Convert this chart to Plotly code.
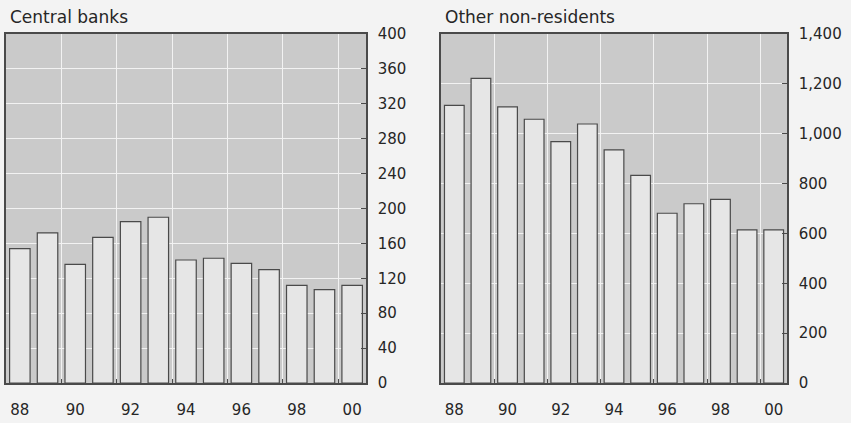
import plotly.graph_objects as go

years = [1988, 1989, 1990, 1991, 1992, 1993, 1994, 1995, 1996, 1997, 1998, 1999, 2000]
central_banks = [154, 172, 136, 167, 185, 190, 141, 143, 137, 130, 112, 107, 112]
other_nonres = [1114, 1222, 1108, 1058, 968, 1039, 935, 833, 681, 719, 737, 614, 614]
tick_years = [1988, 1990, 1992, 1994, 1996, 1998, 2000]
tick_labels = ["88", "90", "92", "94", "96", "98", "00"]
grid_years = [1989.5, 1991.5, 1993.5, 1995.5, 1997.5, 1999.5]
left_title = "Central banks"
right_title = "Other non-residents"

W, H = 851, 423
font = "DejaVu Sans, Liberation Sans, Arial, sans-serif"
dark = "#4a4a4a"
bar_fill = "#e6e6e6"
plot_bg = "#cacaca"
paper_bg = "#f3f3f3"
text_col = "#262626"

fig = go.Figure()
fig.add_trace(go.Bar(x=years, y=central_banks, xaxis="x", yaxis="y",
                     marker=dict(color=bar_fill, line=dict(color=dark, width=1.2)),
                     width=0.74, showlegend=False))
fig.add_trace(go.Bar(x=years, y=other_nonres, xaxis="x2", yaxis="y2",
                     marker=dict(color=bar_fill, line=dict(color=dark, width=1.2)),
                     width=0.74, showlegend=False))

y0 = (H - 383) / H
y1 = (H - 34) / H

def xaxis(domain, anchor):
    return dict(domain=domain, anchor=anchor, range=[1987.5, 2000.5], automargin=False,
                tickvals=tick_years, ticktext=tick_labels, showgrid=False,
                ticks="", showline=True, linecolor=dark, linewidth=1.5, mirror=True,
                zeroline=False, ticklabelstandoff=12,
                tickfont=dict(family=font, size=15, color=text_col),
                minor=dict(tickvals=grid_years, showgrid=True, gridcolor="#f2f2f2",
                           gridwidth=1, ticks="inside", ticklen=4, tickcolor=dark))

def yaxis(domain, anchor, rng, dtick):
    return dict(domain=domain, anchor=anchor, side="right", range=rng, dtick=dtick,
                automargin=False,
                showgrid=True, gridcolor="#f2f2f2", gridwidth=1,
                ticks="inside", ticklen=5, tickcolor=dark,
                showline=True, linecolor=dark, linewidth=1.5, mirror=True,
                zeroline=False, tickformat=",d", ticklabelstandoff=7,
                tickfont=dict(family=font, size=15, color=text_col))

fig.update_layout(
    width=W, height=H,
    margin=dict(l=0, r=0, t=0, b=0, autoexpand=False),
    paper_bgcolor=paper_bg, plot_bgcolor=plot_bg,
    bargap=0.2,
    xaxis=xaxis([6 / W, 366 / W], "y"),
    yaxis=yaxis([y0, y1], "x", [0, 400], 40),
    xaxis2=xaxis([441 / W, 787 / W], "y2"),
    yaxis2=yaxis([y0, y1], "x2", [0, 1400], 200),
    annotations=[
        dict(text=left_title, x=8 / W, y=(H - 17) / H, xref="paper", yref="paper",
             xanchor="left", yanchor="middle", showarrow=False,
             font=dict(family=font, size=17, color=text_col)),
        dict(text=right_title, x=443 / W, y=(H - 17) / H, xref="paper", yref="paper",
             xanchor="left", yanchor="middle", showarrow=False,
             font=dict(family=font, size=17, color=text_col)),
    ],
)

fig.write_html("out.html", config={"displayModeBar": False},
               post_script="document.body.style.margin='0';")
